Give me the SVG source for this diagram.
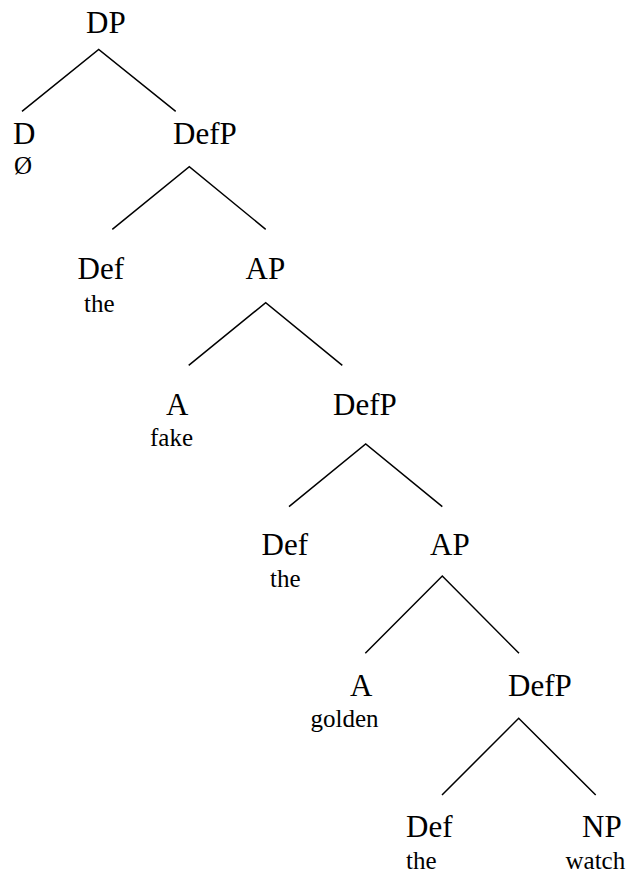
<svg xmlns="http://www.w3.org/2000/svg" width="630" height="873" viewBox="0 0 630 873">
<style>
.lbl{font-family:"Liberation Serif","Times New Roman",serif;font-size:31px;fill:#000}
.wrd{font-family:"Liberation Serif","Times New Roman",serif;font-size:25px;fill:#000}
.edge{stroke:#000;stroke-width:1.5;fill:none}
</style>
<rect width="630" height="873" fill="#fff"/>
<g id="connectors">
<polyline class="edge" points="22,111.3 98.7,49.5 175.7,111.3"/>
<polyline class="edge" points="112.3,229.3 189.3,166.7 265.7,229.3"/>
<polyline class="edge" points="188.7,365.3 265.7,302.7 342.3,365.3"/>
<polyline class="edge" points="289,506.7 365.7,444 442.3,506.7"/>
<polyline class="edge" points="365.3,653.3 442.3,576 519,653.3"/>
<polyline class="edge" points="442,795 518.7,718.3 595.7,795"/>
</g>
<g id="n-DP"><text class="lbl" x="86" y="33">DP</text></g>
<g id="n-D"><text class="lbl" x="13" y="144">D</text><text class="wrd" x="14" y="174">Ø</text></g>
<g id="n-DefP1"><text class="lbl" x="173" y="143.5">DefP</text></g>
<g id="n-Def1"><text class="lbl" x="77.5" y="279">Def</text><text class="wrd" x="84" y="311.5">the</text></g>
<g id="n-AP1"><text class="lbl" x="245.5" y="279">AP</text></g>
<g id="n-A1"><text class="lbl" x="166" y="414.5">A</text><text class="wrd" x="150" y="446">fake</text></g>
<g id="n-DefP2"><text class="lbl" x="333" y="414.5">DefP</text></g>
<g id="n-Def2"><text class="lbl" x="261.5" y="555">Def</text><text class="wrd" x="270" y="586.5">the</text></g>
<g id="n-AP2"><text class="lbl" x="430" y="555">AP</text></g>
<g id="n-A2"><text class="lbl" x="350" y="696">A</text><text class="wrd" x="310.5" y="727">golden</text></g>
<g id="n-DefP3"><text class="lbl" x="508" y="696">DefP</text></g>
<g id="n-Def3"><text class="lbl" x="406" y="837">Def</text><text class="wrd" x="406" y="869">the</text></g>
<g id="n-NP"><text class="lbl" x="582" y="837">NP</text><text class="wrd" x="565.5" y="869">watch</text></g>
</svg>
